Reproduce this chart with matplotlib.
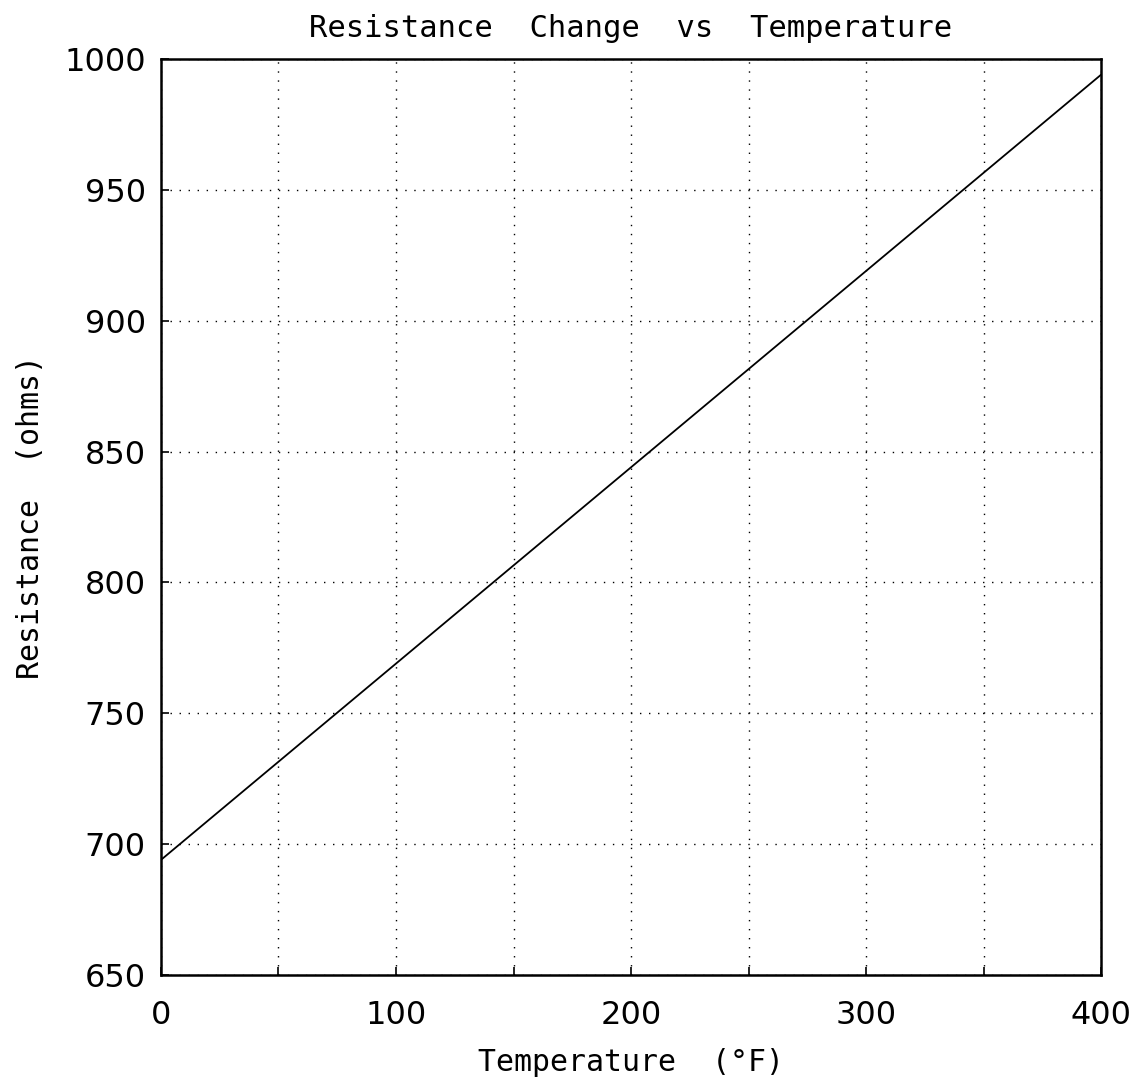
import matplotlib
matplotlib.use("Agg")
import matplotlib.pyplot as plt

# resistance readings at the ends of the range and in between
temp_f = [0, 100, 200, 300, 400]
resistance = [694, 769, 844, 919, 994]

x_ticks = [0, 100, 200, 300, 400]
y_ticks = [650, 700, 750, 800, 850, 900, 950, 1000]

plt.rcParams["font.family"] = ["DejaVu Sans"]
mono = ["DejaVu Sans Mono"]

fig = plt.figure(figsize=(11.45, 10.83), dpi=100, facecolor="white")
ax = fig.add_axes([0.1406, 0.0997, 0.821, 0.8458])

ax.plot(temp_f, resistance, color="black", linewidth=1.3)

ax.set_xlim(0, 400)
ax.set_ylim(650, 1000)
ax.set_xticks(x_ticks)
ax.set_yticks(y_ticks)
ax.set_xticks(range(0, 401, 50), minor=True)

dots = (0, (1, 5.5))
ax.grid(True, which="both", axis="x", color="black", linestyle=dots, linewidth=1.0)
ax.grid(True, which="major", axis="y", color="black", linestyle=dots, linewidth=1.0)

ax.tick_params(which="both", direction="in", length=6, width=1.2, labelsize=23,
               colors="black")
ax.tick_params(axis="x", pad=18)
ax.tick_params(axis="y", pad=11)
for sp in ax.spines.values():
    sp.set_linewidth(1.8)

ax.set_title("Resistance  Change  vs  Temperature", fontsize=22, family=mono,
             pad=16)
ax.set_xlabel("Temperature  (\u00b0F)", fontsize=21.5, family=mono, labelpad=12)
ax.set_ylabel("Resistance  (ohms)", fontsize=21.5, family=mono, labelpad=14)

fig.savefig("out.png", dpi=100, facecolor="white")
